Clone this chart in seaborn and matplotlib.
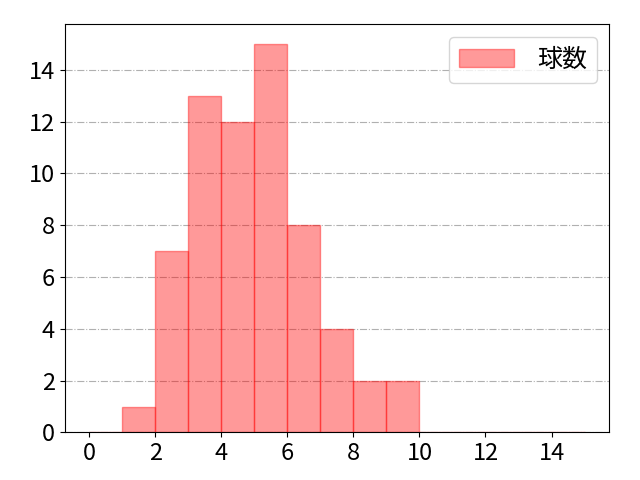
import numpy as np
import pandas as pd
import matplotlib
matplotlib.use("Agg")
import matplotlib.pyplot as plt
import seaborn as sns

# pitches per plate appearance, one bin per integer
bin_edges = list(range(0, 16))
bin_lefts = [1, 2, 3, 4, 5, 6, 7, 8, 9]
bin_counts = [1, 7, 13, 12, 15, 8, 4, 2, 2]
legend_label = "球数"

plt.rcParams['font.family'] = ['Noto Sans CJK JP', 'DejaVu Sans']

df = pd.DataFrame({"value": np.repeat(np.array(bin_lefts) + 0.5, bin_counts)})

fig, ax = plt.subplots(figsize=(6.4, 4.8), dpi=100)
fig.subplots_adjust(left=0.101, right=0.952, top=0.949, bottom=0.099)
ax.grid(axis='y', linestyle='-.', color='#b0b0b0', linewidth=0.8)
ax.set_axisbelow(True)

sns.histplot(data=df, x="value", bins=bin_edges, color='red', alpha=0.4,
             edgecolor=(1, 0, 0, 0.4), linewidth=1.0, label=legend_label, ax=ax)

ax.set_xlim(-0.75, 15.75)
ax.set_ylim(0, 15.75)
ax.set_xlabel("")
ax.set_ylabel("")
ax.set_xticks(range(0, 16, 2))
ax.set_yticks(range(0, 16, 2))
ax.tick_params(labelsize=17)
ax.legend(loc='upper right', fontsize=18, handlelength=2.2, handletextpad=0.9)

plt.savefig("out.png", dpi=100)
